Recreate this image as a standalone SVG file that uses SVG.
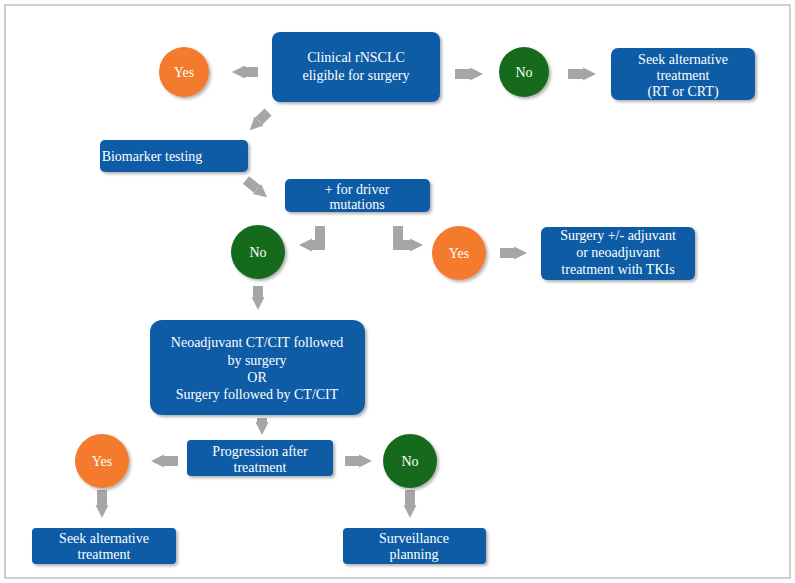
<svg xmlns="http://www.w3.org/2000/svg" width="795" height="583" viewBox="0 0 795 583">
<defs>
<marker id="ah" viewBox="0 0 10 10" markerWidth="1.3" markerHeight="2" refX="0" refY="5" orient="auto"><path d="M0,0 L10,5 L0,10 z" fill="#a6a6a6"/></marker>
<filter id="sh" x="-10%" y="-10%" width="130%" height="140%"><feDropShadow dx="2" dy="2" stdDeviation="1.5" flood-color="#000" flood-opacity="0.3"/></filter>
</defs>
<style>
.box{fill:#0b5ca5;filter:url(#sh)}
.t{font-family:"Liberation Serif",serif;font-size:14px;fill:#fff;text-anchor:middle}
.g{fill:#176b1f;filter:url(#sh)}
.o{fill:#f47a2e;filter:url(#sh)}
.a{stroke:#a6a6a6;stroke-width:10;fill:none;marker-end:url(#ah)}
</style>
<rect width="795" height="583" fill="#fff"/>
<rect x="5" y="5" width="785" height="573" fill="none" stroke="#bfbfbf" stroke-width="1.5"/>
<g id="connectors">
<line class="a" x1="258" y1="72" x2="245" y2="72"/>
<line class="a" x1="455" y1="74" x2="470" y2="74"/>
<line class="a" x1="568" y1="74" x2="583" y2="74"/>
<line class="a" x1="268" y1="112" x2="259" y2="121"/>
<line class="a" x1="246" y1="180" x2="257" y2="189"/>
<polyline class="a" points="320,226 320,245 312,245"/>
<polyline class="a" points="398,226 398,245 410,245"/>
<line class="a" x1="500" y1="253" x2="514" y2="253"/>
<line class="a" x1="258" y1="286" x2="258" y2="297"/>
<line class="a" x1="262" y1="418" x2="262" y2="422"/>
<line class="a" x1="178" y1="461" x2="164" y2="461"/>
<line class="a" x1="345" y1="461" x2="359" y2="461"/>
<line class="a" x1="102" y1="490" x2="102" y2="505"/>
<line class="a" x1="410" y1="490" x2="410" y2="505"/>
</g>
<g id="clinical"><rect class="box" x="272" y="32" width="168" height="70" rx="8"/><text class="t" x="356" y="62">Clinical rNSCLC</text><text class="t" x="356" y="80">eligible for surgery</text></g>
<g id="yes1"><circle class="o" cx="184" cy="72" r="25"/><text class="t" x="184" y="77">Yes</text></g>
<g id="no1"><circle class="g" cx="524" cy="72" r="25"/><text class="t" x="524" y="77">No</text></g>
<g id="seek1"><rect class="box" x="611" y="48" width="144" height="52" rx="7"/><text class="t" x="683" y="64">Seek alternative</text><text class="t" x="683" y="80">treatment</text><text class="t" x="683" y="96">(RT or CRT)</text></g>
<g id="biomarker"><rect class="box" x="100" y="140" width="148" height="32" rx="5"/><text class="t" x="152" y="161">Biomarker testing</text></g>
<g id="driver"><rect class="box" x="285" y="179" width="145" height="33" rx="5"/><text class="t" x="357" y="194">+ for driver</text><text class="t" x="357" y="209">mutations</text></g>
<g id="no2"><circle class="g" cx="258" cy="252" r="27"/><text class="t" x="258" y="257">No</text></g>
<g id="yes2"><circle class="o" cx="459" cy="253" r="27"/><text class="t" x="459" y="258">Yes</text></g>
<g id="surgery"><rect class="box" x="541" y="227" width="154" height="53" rx="6"/><text class="t" x="618" y="240">Surgery +/- adjuvant</text><text class="t" x="618" y="257">or neoadjuvant</text><text class="t" x="618" y="274">treatment with TKIs</text></g>
<g id="neo"><rect class="box" x="150" y="320" width="215" height="95" rx="12"/><text class="t" x="257" y="347">Neoadjuvant  CT/CIT followed</text><text class="t" x="257" y="365">by surgery</text><text class="t" x="257" y="382">OR</text><text class="t" x="257" y="399">Surgery followed by CT/CIT</text></g>
<g id="progression"><rect class="box" x="187" y="440" width="146" height="36" rx="4"/><text class="t" x="260" y="456">Progression after</text><text class="t" x="260" y="472">treatment</text></g>
<g id="yes3"><circle class="o" cx="102" cy="461" r="27"/><text class="t" x="102" y="466">Yes</text></g>
<g id="no3"><circle class="g" cx="410" cy="461" r="27"/><text class="t" x="410" y="466">No</text></g>
<g id="seek2"><rect class="box" x="32" y="528" width="144" height="36" rx="4"/><text class="t" x="104" y="543">Seek alternative</text><text class="t" x="104" y="559">treatment</text></g>
<g id="surveillance"><rect class="box" x="343" y="528" width="143" height="36" rx="4"/><text class="t" x="414" y="543">Surveillance</text><text class="t" x="414" y="559">planning</text></g>
</svg>
